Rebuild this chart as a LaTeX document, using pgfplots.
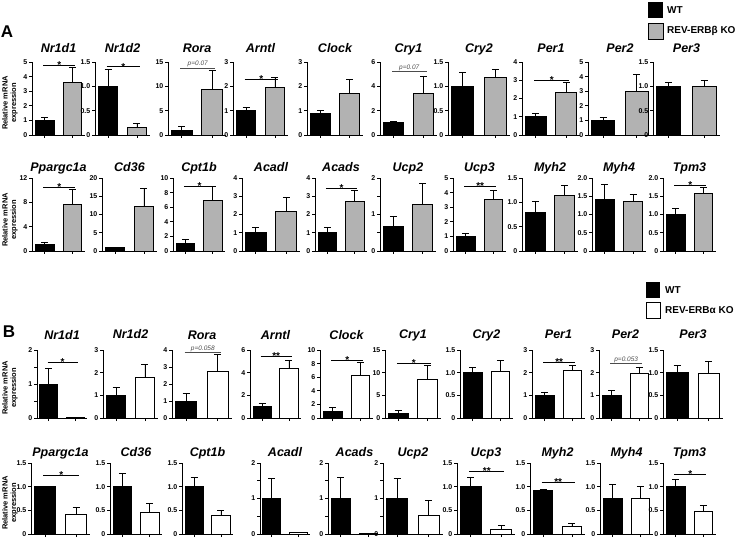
\documentclass[border=0pt]{standalone}
\usepackage{fontspec}
\setmainfont{Liberation Sans}
\usepackage{pgfplots}
\pgfplotsset{compat=1.18}
\definecolor{kogray}{RGB}{178,178,178}
\def\kofill{kogray}
\def\tshift{9pt}
\pgfplotsset{
  panel/.style={
    scale only axis, anchor=south west,
    ybar, bar shift=0pt, bar width=0.68,
    xmin=-0.45, xmax=1.45, ymin=0,
    axis x line*=bottom, axis y line*=left,
    xtick={0,1}, xticklabels={},
    tick align=outside, major tick length=3pt,
    tick style={line width=0.8pt, black},
    axis line style={line width=0.9pt},
    yticklabel style={font=\bfseries\fontsize{7}{8}\selectfont, inner sep=1.5pt},
    clip=false,
    error bars/y dir=plus, error bars/y explicit,
    error bars/error bar style={line width=0.8pt, black},
    error bars/error mark options={rotate=90, mark size=3.5pt, line width=0.8pt, black},
  }
}
\newcommand{\bars}[4]{%
  \addplot[fill=black, draw=black, line width=0.9pt, bar shift=0pt] coordinates {(0,#1) +- (0,#2)};
  \addplot[fill=\kofill, draw=black, line width=0.9pt, bar shift=0pt] coordinates {(1,#3) +- (0,#4)};}
\newcommand{\sig}[2]{\draw[line width=0.8pt] (axis cs:-0.05,#1) -- (axis cs:1.1,#1) node[midway, anchor=base, yshift=-3.2pt, inner sep=0pt, font=\bfseries\fontsize{10}{10}\selectfont] {#2};}
\newcommand{\pv}[2]{\draw[line width=0.6pt, gray!60!black] (axis cs:-0.05,#1) -- (axis cs:1.1,#1) node[midway, anchor=south, inner sep=0.8pt, text=gray!60!black, font=\itshape\fontsize{6.5}{7}\selectfont] {#2};}
\newcommand{\panel}[9]{%
  \begin{axis}[panel, at={(#1pt,#2pt)}, width=#3pt, height=#4pt, ymax=#5, ytick={#6}, yticklabels={#7}]
  #8
  \node[anchor=base, yshift=\tshift, inner sep=0pt, font=\bfseries\itshape\fontsize{12.5}{13}\selectfont] at (rel axis cs:0.5,1) {#9};
  \end{axis}}
\begin{document}
\begin{tikzpicture}
\useasboundingbox (0,0) rectangle (740pt,539pt);
% panel labels
\node[font=\bfseries\fontsize{17}{17}\selectfont, inner sep=0pt] at (7pt,507pt) {A};
\node[font=\bfseries\fontsize{17}{17}\selectfont, inner sep=0pt] at (9pt,207pt) {B};
% y labels
\foreach \yy in {436,319,151,36}{
  \node[rotate=90, align=center, inner sep=0pt, font=\bfseries\fontsize{7.5}{8.5}\selectfont] at (10pt,\yy pt) {Relative mRNA\\expression};
}
% legends
\fill[black] (648pt,521pt) rectangle (663pt,537pt);
\node[anchor=west, inner sep=0pt, font=\bfseries\fontsize{10}{10}\selectfont] at (667pt,529pt) {WT};
\draw[fill=kogray, line width=0.8pt] (648pt,500pt) rectangle (663pt,516pt);
\node[anchor=west, inner sep=0pt, font=\bfseries\fontsize{10}{10}\selectfont] at (667pt,508pt) {REV-ERBβ KO};
\fill[black] (646pt,241pt) rectangle (660pt,257pt);
\node[anchor=west, inner sep=0pt, font=\bfseries\fontsize{10}{10}\selectfont] at (665pt,249pt) {WT};
\draw[fill=white, line width=0.8pt] (646pt,221pt) rectangle (660pt,237pt);
\node[anchor=west, inner sep=0pt, font=\bfseries\fontsize{10}{10}\selectfont] at (665pt,229pt) {REV-ERBα KO};

% ===== Row A1 =====
\def\kofill{kogray}\def\tshift{9.3pt}
\panel{32}{404}{53}{73}{5}{0,1,2,3,4,5}{0,1,2,3,4,5}{\bars{1}{0.2}{3.6}{1.05}\sig{4.8}{*}}{Nr1d1}
\panel{95}{404}{55}{73}{1.5}{0,0.5,1,1.5}{0,0.5,1.0,1.5}{\bars{1}{0.35}{0.15}{0.09}\sig{1.4}{*}}{Nr1d2}
\panel{168}{404}{58}{73}{15}{0,5,10,15}{0,5,10,15}{\bars{1}{0.8}{9.4}{3.8}\pv{13.8}{p=0.07}}{Rora}
\panel{233}{404}{55}{73}{3}{0,1,2,3}{0,1,2,3}{\bars{1}{0.15}{1.97}{0.41}\sig{2.3}{*}}{Arntl}
\panel{307}{404}{56}{73}{3}{0,1,2,3}{0,1,2,3}{\bars{0.87}{0.13}{1.7}{0.57}}{Clock}
\panel{380}{404}{57}{73}{6}{0,2,4,6}{0,2,4,6}{\bars{1}{0.1}{3.4}{1.4}\pv{5.2}{p=0.07}}{Cry1}
\panel{448}{404}{62}{73}{1.5}{0,0.5,1,1.5}{0,0.5,1.0,1.5}{\bars{1}{0.29}{1.18}{0.17}}{Cry2}
\panel{522}{404}{58}{73}{4}{0,1,2,3,4}{0,1,2,3,4}{\bars{1}{0.17}{2.32}{0.56}\sig{3.0}{*}}{Per1}
\panel{588}{404}{64}{73}{5}{0,1,2,3,4,5}{0,1,2,3,4,5}{\bars{1}{0.2}{3.0}{1.15}}{Per2}
\panel{653}{404}{67}{73}{1.5}{0,0.5,1,1.5}{0,0.5,1.0,1.5}{\bars{1}{0.08}{1.0}{0.13}}{Per3}

% ===== Row A2 =====
\def\tshift{6.3pt}
\panel{32}{288}{53}{73}{12}{0,4,8,12}{0,4,8,12}{\bars{1}{0.35}{7.6}{2.6}\sig{10.5}{*}}{Ppargc1a}
\panel{102}{288}{55}{73}{20}{0,5,10,15,20}{0,5,10,15,20}{\bars{0.9}{0.1}{12.2}{5.0}}{Cd36}
\panel{173}{288}{52}{73}{10}{0,2,4,6,8,10}{0,2,4,6,8,10}{\bars{1}{0.6}{6.9}{2.0}\sig{8.8}{*}}{Cpt1b}
\panel{242}{288}{58}{73}{4}{0,1,2,3,4}{0,1,2,3,4}{\bars{1}{0.28}{2.17}{0.75}}{Acadl}
\panel{315}{288}{52}{73}{4}{0,1,2,3,4}{0,1,2,3,4}{\bars{1}{0.28}{2.72}{0.6}\sig{3.43}{*}}{Acads}
\panel{380}{288}{56}{73}{2}{0,0.5,1,1.5,2}{0,,1,,2}{\bars{0.67}{0.28}{1.28}{0.57}}{Ucp2}
\panel{453}{288}{53}{73}{5}{0,1,2,3,4,5}{0,1,2,3,4,5}{\bars{1}{0.2}{3.5}{0.65}\sig{4.4}{**}}{Ucp3}
\panel{522}{288}{56}{73}{1.5}{0,0.5,1,1.5}{0,0.5,1.0,1.5}{\bars{0.8}{0.22}{1.14}{0.21}}{Myh2}
\panel{592}{288}{54}{73}{2}{0,0.5,1,1.5,2}{0,0.5,1.0,1.5,2.0}{\bars{1.42}{0.4}{1.37}{0.17}}{Myh4}
\panel{663}{288}{53}{73}{2}{0,0.5,1,1.5,2}{0,0.5,1.0,1.5,2.0}{\bars{1}{0.16}{1.57}{0.17}\sig{1.81}{*}}{Tpm3}

% ===== Row B1 =====
\def\kofill{white}\def\tshift{11pt}
\panel{37}{121}{50}{68}{2}{0,0.5,1,1.5,2}{0,,1,,2}{\bars{1}{0.47}{0.01}{0}\sig{1.64}{*}}{Nr1d1}
\panel{103}{121}{55}{68}{3}{0,1,2,3}{0,1,2,3}{\bars{1}{0.35}{1.8}{0.55}}{Nr1d2}
\panel{172}{121}{60}{68}{4}{0,1,2,3,4}{0,1,2,3,4}{\bars{1}{0.45}{2.75}{0.97}\pv{3.85}{p=0.058}}{Rora}
\panel{250}{121}{51}{68}{6}{0,2,4,6}{0,2,4,6}{\bars{1}{0.25}{4.4}{0.7}\sig{5.45}{**}}{Arntl}
\panel{320}{121}{53}{68}{10}{0,2,4,6,8,10}{0,2,4,6,8,10}{\bars{1}{0.5}{6.3}{1.9}\sig{8.5}{*}}{Clock}
\panel{385}{121}{56}{68}{15}{0,5,10,15}{0,5,10,15}{\bars{1}{0.6}{8.4}{3.1}\sig{12}{*}}{Cry1}
\panel{460}{121}{53}{68}{1.5}{0,0.5,1,1.5}{0,0.5,1.0,1.5}{\bars{1}{0.12}{1.02}{0.25}}{Cry2}
\panel{532}{121}{53}{68}{3}{0,1,2,3}{0,1,2,3}{\bars{1}{0.15}{2.1}{0.23}\sig{2.45}{**}}{Per1}
\panel{599}{121}{53}{68}{3}{0,1,2,3}{0,1,2,3}{\bars{1}{0.22}{1.95}{0.3}\pv{2.4}{p=0.053}}{Per2}
\panel{663}{121}{60}{68}{1.5}{0,0.5,1,1.5}{0,0.5,1.0,1.5}{\bars{1}{0.16}{0.98}{0.27}}{Per3}

% ===== Row B2 =====
\def\tshift{6.3pt}
\panel{31}{5}{59}{71}{1.5}{0,0.5,1,1.5}{0,0.5,1.0,1.5}{\bars{1}{0.01}{0.42}{0.15}\sig{1.23}{*}}{Ppargc1a}
\panel{110}{5}{52}{71}{1.5}{0,0.5,1,1.5}{0,0.5,1.0,1.5}{\bars{1}{0.28}{0.45}{0.19}}{Cd36}
\panel{182}{5}{51}{71}{1.5}{0,0.5,1,1.5}{0,0.5,1.0,1.5}{\bars{1}{0.2}{0.4}{0.1}}{Cpt1b}
\panel{260}{5}{50}{71}{2}{0,0.5,1,1.5,2}{0,,1,,2}{\bars{1}{0.57}{0.03}{0.02}}{Acadl}
\panel{328}{5}{53}{71}{2}{0,0.5,1,1.5,2}{0,,1,,2}{\bars{1}{0.6}{0.005}{0}}{Acads}
\panel{383}{5}{60}{71}{2}{0,0.5,1,1.5,2}{0,,1,,2}{\bars{1}{0.57}{0.52}{0.42}}{Ucp2}
\panel{457}{5}{58}{71}{1.5}{0,0.5,1,1.5}{0,0.5,1.0,1.5}{\bars{1}{0.2}{0.1}{0.08}\sig{1.33}{**}}{Ucp3}
\panel{530}{5}{55}{71}{1.5}{0,0.5,1,1.5}{0,0.5,1.0,1.5}{\bars{0.93}{0.01}{0.15}{0.08}\sig{1.09}{**}}{Myh2}
\panel{600}{5}{53}{71}{1.5}{0,0.5,1,1.5}{0,0.5,1.0,1.5}{\bars{0.75}{0.3}{0.76}{0.24}}{Myh4}
\panel{663}{5}{53}{71}{1.5}{0,0.5,1,1.5}{0,0.5,1.0,1.5}{\bars{1}{0.15}{0.48}{0.12}\sig{1.26}{*}}{Tpm3}
\end{tikzpicture}
\end{document}
